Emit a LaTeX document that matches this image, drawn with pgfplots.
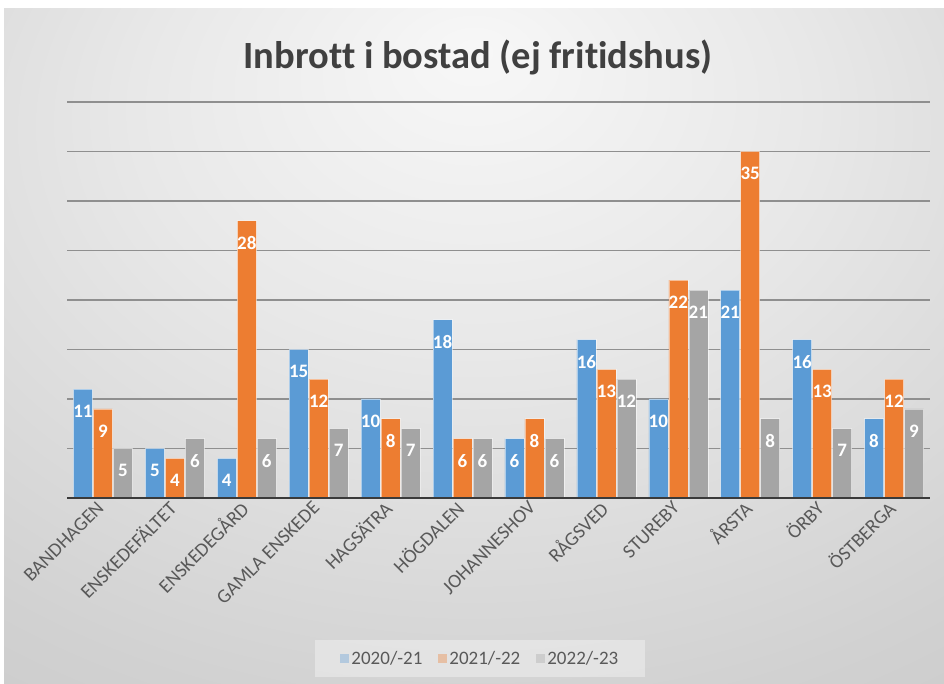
\documentclass[border=0pt]{standalone}
\usepackage{pgfplots}
\pgfplotsset{compat=1.18}
\usepackage{fontspec}
\setmainfont{Carlito}[Ligatures={NoCommon}]
\definecolor{cblue}{HTML}{5B9BD5}
\definecolor{corange}{HTML}{ED7D31}
\definecolor{cgray}{HTML}{A5A5A5}
\definecolor{ctext}{HTML}{595959}
\definecolor{ctitle}{HTML}{404040}
\definecolor{cgrid}{HTML}{8F8F8F}
\definecolor{cbase}{HTML}{3A3A3A}
\pgfdeclareradialshading{bgshade}{\pgfpoint{0bp}{22bp}}{color(0bp)=(black!3); color(18bp)=(black!9); color(40bp)=(black!18); color(60bp)=(black!24); color(90bp)=(black!27)}
\begin{document}
\begin{tikzpicture}
\path[use as bounding box] (0pt,0pt) rectangle (944pt,684pt);
\fill[white] (0pt,0pt) rectangle (944pt,684pt);
\shade[shading=bgshade] (4pt,0pt) rectangle (944pt,675pt);
\node[anchor=base, font=\fontsize{38.5}{42}\selectfont\bfseries, text=ctitle] at (478pt,615pt) {Inbrott i bostad (ej fritidshus)};
\begin{axis}[
  at={(67pt,186pt)}, anchor=south west,
  scale only axis, width=863pt, height=396pt,
  ymin=0, ymax=40, xmin=-0.5, xmax=11.5,
  /pgf/number format/assume math mode=true,
  ybar=1pt, bar width=19pt,
  axis line style={draw=none},
  tick style={draw=none},
  ytick={5,10,...,40}, yticklabels={},
  ymajorgrids, major grid style={color=cgrid, line width=1.2pt},
  xtick=data,
  xticklabels={BANDHAGEN,ENSKEDEFÄLTET,ENSKEDEGÅRD,GAMLA ENSKEDE,HAGSÄTRA,HÖGDALEN,JOHANNESHOV,RÅGSVED,STUREBY,ÅRSTA,ÖRBY,ÖSTBERGA},
  xticklabel style={rotate=45, anchor=east, font=\fontsize{19.5}{21}\selectfont, text=ctext},
  nodes near coords,
  every node near coord/.append style={anchor=north, yshift=-15.5pt, inner sep=0pt, font=\fontsize{19}{20}\selectfont\bfseries, text=white},
  legend columns=3,
  legend style={at={(0.479,-0.405)}, anchor=center, fill=white, fill opacity=0.35, text opacity=1, draw=none,
    font=\fontsize{19}{22}\selectfont, text=ctext, inner xsep=25pt, inner ysep=9pt,
    /tikz/every even column/.append style={column sep=14pt}},
  legend image code/.code={\fill[#1,draw=none] (0pt,-4.5pt) rectangle (9pt,4.5pt);},
  clip=false,
]
\addplot[fill=cblue, draw=white, draw opacity=0.5, line width=0.6pt] coordinates {(0,11) (1,5) (2,4) (3,15) (4,10) (5,18) (6,6) (7,16) (8,10) (9,21) (10,16) (11,8)};
\addplot[fill=corange, draw=white, draw opacity=0.5, line width=0.6pt] coordinates {(0,9) (1,4) (2,28) (3,12) (4,8) (5,6) (6,8) (7,13) (8,22) (9,35) (10,13) (11,12)};
\addplot[fill=cgray, draw=white, draw opacity=0.5, line width=0.6pt] coordinates {(0,5) (1,6) (2,6) (3,7) (4,7) (5,6) (6,6) (7,12) (8,21) (9,8) (10,7) (11,9)};
\legend{2020/-21,2021/-22,2022/-23}
\draw[cbase, line width=2.5pt] (axis cs:-0.5,0) -- (axis cs:11.5,0);
\end{axis}
\end{tikzpicture}
\end{document}
